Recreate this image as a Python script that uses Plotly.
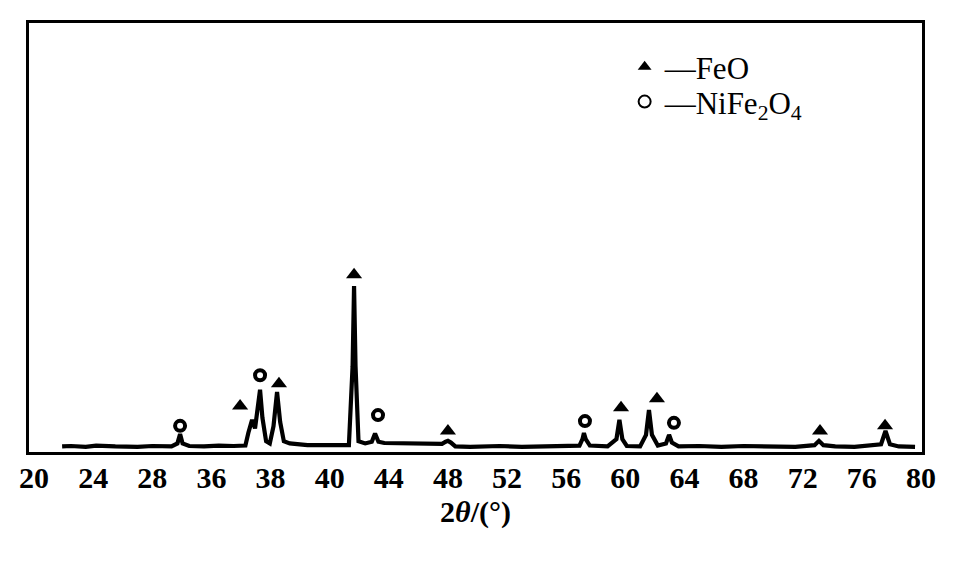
import plotly.graph_objects as go

# XRD pattern (x in the axis' uniform degree scale)
two_theta = [21.9, 22.5, 23.5, 24.2, 25.5, 27.0, 28.0, 29.3, 29.7, 29.88, 30.05, 30.5,
             31.5, 32.5, 33.5, 34.3, 34.5, 34.75, 34.95, 35.15, 35.29, 35.45, 35.7, 35.95,
             36.2, 36.44, 36.65, 36.9, 37.3, 38.5, 40.0, 41.3, 41.55, 41.65, 41.75, 41.95,
             42.4, 42.85, 43.07, 43.3, 43.7, 45.5, 47.6, 47.85, 48.0, 48.2, 48.5, 49.5,
             51.5, 53.0, 55.0, 56.9, 57.1, 57.2, 57.32, 57.6, 58.8, 59.4, 59.6, 59.8,
             60.1, 61.0, 61.4, 61.6, 61.8, 62.2, 62.75, 62.96, 63.15, 63.6, 65.0, 66.5,
             68.0, 70.0, 71.5, 72.8, 73.1, 73.4, 74.2, 75.5, 77.3, 77.6, 77.9, 78.5, 79.6]
intensity = [1.3, 1.4, 1.2, 1.5, 1.3, 1.2, 1.4, 1.3, 2.0, 4.2, 2.0, 1.4,
             1.3, 1.5, 1.4, 1.5, 4.5, 7.5, 5.5, 10.0, 14.5, 8.0, 2.5, 2.0,
             6.0, 14.0, 7.0, 2.5, 2.0, 1.6, 1.5, 1.6, 20.0, 38.7, 20.0, 2.5,
             2.0, 2.4, 4.3, 2.4, 2.1, 2.0, 1.9, 2.4, 2.6, 2.2, 1.3, 1.2,
             1.4, 1.2, 1.3, 1.5, 3.0, 4.4, 3.0, 1.5, 1.3, 3.0, 7.5, 3.0,
             1.4, 1.3, 4.0, 9.8, 4.0, 1.5, 2.0, 4.0, 2.2, 1.3, 1.4, 1.2,
             1.4, 1.3, 1.2, 1.6, 2.6, 1.6, 1.3, 1.2, 1.8, 4.9, 1.8, 1.3, 1.2]

# phase markers
feo_x = [33.94, 36.57, 41.65, 48.0, 59.71, 62.14, 73.17, 77.57]
feo_y = [10.7, 15.9, 41.3, 4.9, 10.3, 12.4, 4.9, 6.1]
nife_x = [29.88, 35.29, 43.27, 57.27, 63.29]
nife_y = [6.1, 17.9, 8.6, 7.2, 6.8]

tick_vals = [20, 24, 28, 32, 36, 40, 44, 48, 52, 56, 60, 64, 68, 72, 76, 80]
tick_text = ["20", "24", "28", "36", "38", "40", "44", "48", "52", "56", "60",
             "64", "68", "72", "76", "80"]

fig = go.Figure()
fig.add_trace(go.Scatter(x=two_theta, y=intensity, mode="lines",
                         line=dict(color="black", width=4.2), showlegend=False,
                         hoverinfo="skip"))
fig.add_trace(go.Scatter(x=feo_x, y=feo_y, mode="markers", name="—FeO",
                         legend="legend",
                         marker=dict(symbol="triangle-up", size=14, color="black")))
fig.add_trace(go.Scatter(x=nife_x, y=nife_y, mode="markers",
                         name="—NiFe<sub>2</sub>O<sub>4</sub>", legend="legend2",
                         marker=dict(symbol="circle", size=10, color="white",
                                     line=dict(color="black", width=4))))

leg_font = dict(family="Liberation Serif", size=31, color="black")
fig.update_layout(
    width=968, height=579,
    margin=dict(l=21, r=54, t=15, b=135),
    paper_bgcolor="white", plot_bgcolor="white",
    font=dict(family="Liberation Serif", color="black"),
    legend=dict(x=0.667, y=0.897, xanchor="left", yanchor="middle",
                bgcolor="rgba(0,0,0,0)", itemsizing="constant", font=leg_font),
    legend2=dict(x=0.667, y=0.816, xanchor="left", yanchor="middle",
                 bgcolor="rgba(0,0,0,0)", itemsizing="constant", font=leg_font),
    xaxis=dict(range=[19.66, 80.07], tickvals=tick_vals, ticktext=tick_text,
               showgrid=False, zeroline=False, showline=True, mirror=True,
               linecolor="black", linewidth=2.5, ticks="", ticklabelstandoff=-3,
               automargin=False,
               tickfont=dict(family="Liberation Serif", size=30, color="black",
                             weight="bold"),
               title=dict(text="<b>2<i>θ</i>/(°)</b>", standoff=9,
                          font=dict(family="Liberation Serif", size=30, color="black"))),
    yaxis=dict(range=[0, 100], showgrid=False, zeroline=False, showline=True,
               mirror=True, linecolor="black", linewidth=2.5, showticklabels=False,
               ticks="", automargin=False),
)

fig.write_html("out.html")
